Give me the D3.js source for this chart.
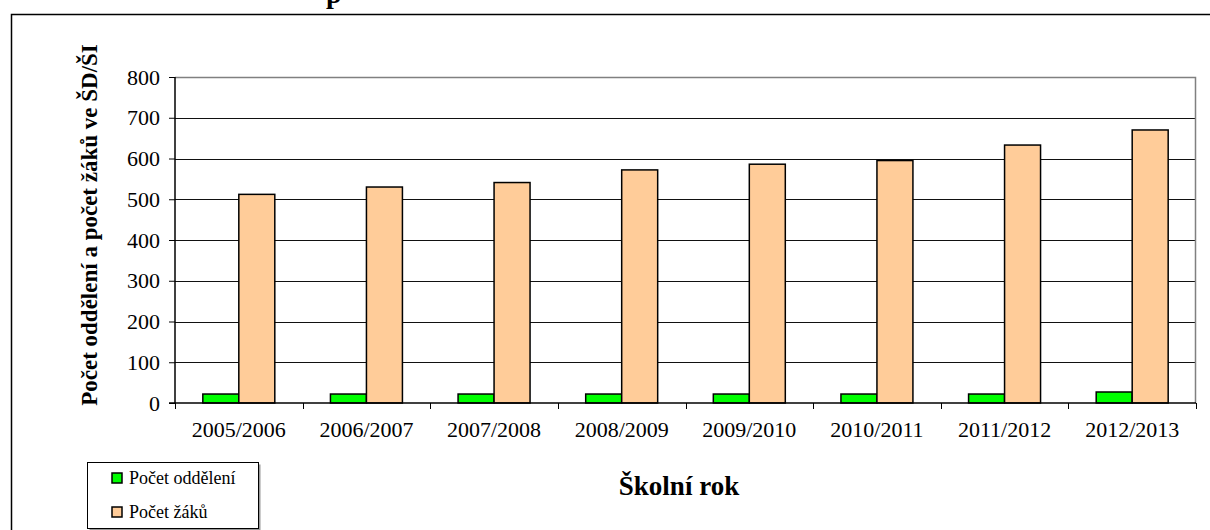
<!DOCTYPE html>
<html>
<head>
<meta charset="utf-8">
<script src="https://cdn.jsdelivr.net/npm/d3@7"></script>
<style>
  body { margin: 0; background: #fff; }
</style>
</head>
<body>
<div id="chart"></div>
<script>
// data
const years = ["2005/2006", "2006/2007", "2007/2008", "2008/2009",
               "2009/2010", "2010/2011", "2011/2012", "2012/2013"];
const oddeleni = [22, 22, 22, 22, 22, 22, 22, 27];
const zaci = [512, 530, 541, 572, 586, 595, 633, 670];
const seriesNames = ["Počet oddělení", "Počet žáků"];
const seriesColors = ["#00ff00", "#ffcc99"];
const yTicks = [0, 100, 200, 300, 400, 500, 600, 700, 800];

const FONT = "'Liberation Serif', 'Times New Roman', 'DejaVu Serif', serif";

const W = 1210, H = 530;
const margin = {top: 77, right: 14, bottom: 127, left: 175};
const width = W - margin.left - margin.right;
const height = H - margin.top - margin.bottom;

const svg = d3.select("#chart").append("svg")
    .attr("width", W)
    .attr("height", H)
    .style("font-family", FONT);

// outer frame (runs off the right and bottom of the picture)
svg.append("rect")
    .attr("x", 11.5).attr("y", 14.5)
    .attr("width", 1400).attr("height", 700)
    .attr("fill", "none")
    .attr("stroke", "#000")
    .attr("stroke-width", 1.5);

// title, cut off at the top
svg.append("text")
    .attr("x", 326).attr("y", 3)
    .style("font-family", FONT)
    .style("font-size", "28px")
    .style("font-weight", "bold")
    .text("p");

const g = svg.append("g")
    .attr("transform", "translate(" + margin.left + "," + margin.top + ")");

const rows = years.map((y, i) => ({year: y, values: [oddeleni[i], zaci[i]]}));

const x0 = d3.scaleBand()
    .domain(years)
    .range([0, width])
    .padding(0);

const x1 = d3.scaleBand()
    .domain([0, 1])
    .range([x0.bandwidth() * 0.218, x0.bandwidth() * 0.782]);

const y = d3.scaleLinear()
    .domain([0, 800])
    .range([height, 0]);

// gridlines
g.selectAll(".grid")
    .data(yTicks.filter(d => d > 0 && d < 800))
    .enter().append("line")
    .attr("class", "grid")
    .attr("x1", 0).attr("x2", width)
    .attr("y1", d => Math.round(y(d)) + 0.5)
    .attr("y2", d => Math.round(y(d)) + 0.5)
    .attr("stroke", "#111")
    .attr("stroke-width", 1);

// plot frame: grey top and right
g.append("path")
    .attr("d", "M0," + (Math.round(y(800)) + 0.5) + "H" + (width - 0.5) + "V" + height)
    .attr("fill", "none")
    .attr("stroke", "#808080")
    .attr("stroke-width", 1.5);

// bars
const groups = g.selectAll(".grp")
    .data(rows)
    .enter().append("g")
    .attr("class", "grp")
    .attr("transform", d => "translate(" + x0(d.year) + ",0)");

groups.selectAll("rect")
    .data(d => d.values.map((v, i) => ({i: i, v: v})))
    .enter().append("rect")
    .attr("x", d => x1(d.i))
    .attr("width", x1.bandwidth())
    .attr("y", d => y(d.v))
    .attr("height", d => y(0) - y(d.v))
    .attr("fill", d => seriesColors[d.i])
    .attr("stroke", "#000")
    .attr("stroke-width", 1.5);

// y axis
const yAxis = d3.axisLeft(y)
    .tickValues(yTicks)
    .tickSize(6)
    .tickPadding(9);

g.append("g")
    .attr("class", "y-axis")
    .call(yAxis)
    .attr("font-family", FONT)
    .call(a => a.select(".domain").attr("stroke", "#000").attr("stroke-width", 1.5).attr("d", "M0,0V" + height))
    .call(a => a.selectAll(".tick line").attr("stroke", "#000"))
    .call(a => a.selectAll("text")
        .style("font-family", FONT)
        .style("font-size", "22px")
        .attr("fill", "#000"));

// x axis: baseline, boundary ticks, centered labels
g.append("line")
    .attr("x1", -6).attr("x2", width)
    .attr("y1", height).attr("y2", height)
    .attr("stroke", "#000")
    .attr("stroke-width", 1.5);

g.selectAll(".xtick")
    .data(years.map(d => x0(d)).concat([width]))
    .enter().append("line")
    .attr("class", "xtick")
    .attr("x1", d => Math.round(d) + 0.5).attr("x2", d => Math.round(d) + 0.5)
    .attr("y1", height).attr("y2", height + 6)
    .attr("stroke", "#000");

const xAxis = d3.axisBottom(x0)
    .tickSize(0)
    .tickPadding(18);

g.append("g")
    .attr("class", "x-axis")
    .attr("transform", "translate(0," + height + ")")
    .call(xAxis)
    .attr("font-family", FONT)
    .call(a => a.select(".domain").remove())
    .call(a => a.selectAll("text")
        .style("font-family", FONT)
        .style("font-size", "22px")
        .attr("fill", "#000"));

// axis titles
svg.append("text")
    .attr("text-anchor", "middle")
    .attr("transform", "translate(97," + (margin.top + 148) + ") rotate(-90)")
    .style("font-family", FONT)
    .style("font-size", "23px")
    .style("font-weight", "bold")
    .text("Počet oddělení a počet žáků ve ŠD/ŠI");

svg.append("text")
    .attr("text-anchor", "middle")
    .attr("x", 679).attr("y", 495)
    .style("font-family", FONT)
    .style("font-size", "27px")
    .style("font-weight", "bold")
    .text("Školní rok");

// legend
const legend = svg.append("g").attr("transform", "translate(87,462)");

legend.append("rect")
    .attr("x", 2.5).attr("y", 2.5)
    .attr("width", 171).attr("height", 66)
    .attr("fill", "#999");

legend.append("rect")
    .attr("x", 0.5).attr("y", 0.5)
    .attr("width", 171).attr("height", 66)
    .attr("fill", "#fff")
    .attr("stroke", "#000");

const items = legend.selectAll(".item")
    .data(seriesNames)
    .enter().append("g")
    .attr("class", "item")
    .attr("transform", (d, i) => "translate(25," + (11 + i * 34) + ")");

items.append("rect")
    .attr("width", 10).attr("height", 10)
    .attr("fill", (d, i) => seriesColors[i])
    .attr("stroke", "#000")
    .attr("stroke-width", 1.5);

items.append("text")
    .attr("x", 17).attr("y", 11)
    .style("font-family", FONT)
    .style("font-size", "18px")
    .text(d => d);
</script>
</body>
</html>
